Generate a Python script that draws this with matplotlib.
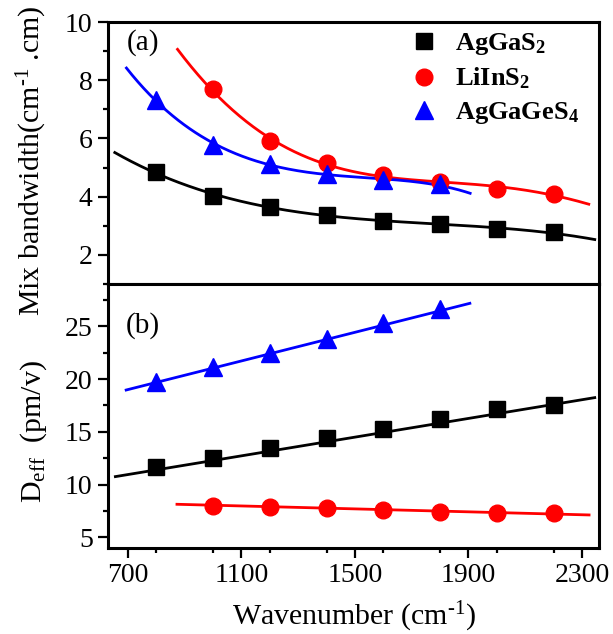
import numpy as np
import matplotlib
matplotlib.use('Agg')
import matplotlib.pyplot as plt
from matplotlib.ticker import MultipleLocator

plt.rcParams['font.family'] = ['Liberation Serif', 'DejaVu Serif']
plt.rcParams['mathtext.fontset'] = 'custom'
plt.rcParams['mathtext.rm'] = 'Liberation Serif'
plt.rcParams['mathtext.it'] = 'Liberation Serif:italic'
plt.rcParams['mathtext.bf'] = 'Liberation Serif:bold'

# ---------------- data ----------------
series_names = [r'$\mathbf{AgGaS_2}$', r'$\mathbf{LiInS_2}$', r'$\mathbf{AgGaGeS_4}$']
colors = ['black', 'red', 'blue']
markers = ['s', 'o', '^']

x_aggas2 = [800, 1000, 1200, 1400, 1600, 1800, 2000, 2200]
x_liins2 = [1000, 1200, 1400, 1600, 1800, 2000, 2200]
x_aggages4 = [800, 1000, 1200, 1400, 1600, 1800]

# (a) mix bandwidth (cm^-1 . cm)
bw_aggas2 = [4.85, 4.04, 3.64, 3.38, 3.16, 3.06, 2.90, 2.78]
bw_liins2 = [7.71, 5.90, 5.17, 4.75, 4.50, 4.27, 4.10]
bw_aggages4 = [7.33, 5.78, 5.13, 4.79, 4.56, 4.44]

# (a) fitted curves
fit_x_aggas2 = [654, 800, 1000, 1200, 1400, 1500, 1600, 1800, 2000, 2200, 2345]
fit_y_aggas2 = [5.50, 4.85, 4.04, 3.64, 3.38, 3.25, 3.16, 3.05, 2.92, 2.76, 2.52]
fit_x_liins2 = [875, 1000, 1200, 1400, 1500, 1600, 1800, 2000, 2200, 2324]
fit_y_liins2 = [9.03, 7.71, 5.90, 5.17, 4.83, 4.72, 4.50, 4.30, 4.10, 3.72]
fit_x_aggages4 = [695, 800, 1000, 1200, 1400, 1500, 1600, 1800, 1906]
fit_y_aggages4 = [8.40, 7.33, 5.78, 5.13, 4.79, 4.66, 4.57, 4.42, 4.10]

# (b) Deff (pm/V)
deff_aggas2 = [11.64, 12.49, 13.44, 14.39, 15.30, 16.25, 17.13, 17.54]
deff_liins2 = [7.98, 7.85, 7.76, 7.60, 7.44, 7.28, 7.28]
deff_aggages4 = [19.76, 21.10, 22.49, 23.76, 25.28, 26.60]

# (b) linear fit lines (end points)
line_x_aggas2 = [656, 2345]
line_y_aggas2 = [10.76, 18.24]
line_x_liins2 = [873, 2325]
line_y_liins2 = [8.14, 7.13]
line_x_aggages4 = [694, 1905]
line_y_aggages4 = [18.96, 27.17]

xticks = [700, 1100, 1500, 1900, 2300]
yticks_a = [2, 4, 6, 8, 10]
yticks_b = [5, 10, 15, 20, 25]


def smooth(xs, ys, deg):
    xs = np.asarray(xs, float)
    ys = np.asarray(ys, float)
    xm, xsd = xs.mean(), xs.std()
    c = np.polyfit((xs - xm) / xsd, ys, deg)
    xd = np.linspace(xs.min(), xs.max(), 300)
    return xd, np.polyval(c, (xd - xm) / xsd)


fig = plt.figure(figsize=(6.13, 6.34), dpi=100)
L, W = 108 / 613, 491 / 613
ax1 = fig.add_axes([L, 1 - 284 / 634, W, 262 / 634])
ax2 = fig.add_axes([L, 1 - 548 / 634, W, 264 / 634])

lw = 2.0
ms = {'s': 11, 'o': 12, '^': 13}

# panel (a)
for (fx, fy, deg), c in zip([(fit_x_aggas2, fit_y_aggas2, 5),
                             (fit_x_liins2, fit_y_liins2, 5),
                             (fit_x_aggages4, fit_y_aggages4, 5)], colors):
    xd, yd = smooth(fx, fy, deg)
    ax1.plot(xd, yd, '-', color=c, lw=lw, zorder=2)
for (x, y), c, m, name in zip([(x_aggas2, bw_aggas2), (x_liins2, bw_liins2),
                               (x_aggages4, bw_aggages4)], colors, markers, series_names):
    ax1.plot(x, y, linestyle='none', marker=m, ms=ms[m], color=c, mec=c, label=name, zorder=3)

# panel (b)
for (lx, ly), c in zip([(line_x_aggas2, line_y_aggas2), (line_x_liins2, line_y_liins2),
                        (line_x_aggages4, line_y_aggages4)], colors):
    ax2.plot(lx, ly, '-', color=c, lw=lw, zorder=2)
for (x, y), c, m in zip([(x_aggas2, deff_aggas2), (x_liins2, deff_liins2),
                         (x_aggages4, deff_aggages4)], colors, markers):
    ax2.plot(x, y, linestyle='none', marker=m, ms=ms[m], color=c, mec=c, zorder=3)

for ax in (ax1, ax2):
    ax.set_xlim(630, 2360)
    ax.set_xticks(xticks)
    ax.xaxis.set_minor_locator(MultipleLocator(200))
    for s in ax.spines.values():
        s.set_linewidth(2.2)
    ax.tick_params(which='both', direction='out', top=False, right=False, width=1.6)
    ax.tick_params(which='major', length=7, labelsize=20, pad=4)
    ax.tick_params(which='minor', length=3.8)

ax1.set_ylim(1, 10)
ax1.set_yticks(yticks_a)
ax1.yaxis.set_minor_locator(MultipleLocator(1))
ax1.tick_params(axis='x', labelbottom=False)

ax2.set_ylim(4, 29)
ax2.set_yticks(yticks_b)
ax2.yaxis.set_minor_locator(MultipleLocator(2.5))

ax1.set_ylabel(r'Mix bandwidth(cm$^{\text{-}1}$ .cm)', fontsize=21.5)
ax2.set_ylabel(r'D$_{\rm eff}$  (pm/v)', fontsize=21.5)
ax2.set_xlabel(r'Wavenumber (cm$^{\text{-}1}$)', fontsize=21.5, labelpad=8)
ax1.yaxis.set_label_coords(-0.12, 0.47)
ax2.yaxis.set_label_coords(-0.12, 0.44)

ax1.text(0.039, 0.893, '(a)', transform=ax1.transAxes, fontsize=21, va='baseline', ha='left')
ax2.text(0.036, 0.814, '(b)', transform=ax2.transAxes, fontsize=21, va='baseline', ha='left')

ax1.legend(loc='upper left', bbox_to_anchor=(0.616, 0.965), frameon=False, fontsize=19,
           handlelength=1.0, handletextpad=0.67, borderpad=0, borderaxespad=0,
           labelspacing=0.33, numpoints=1)

fig.savefig('out.png', dpi=100)
